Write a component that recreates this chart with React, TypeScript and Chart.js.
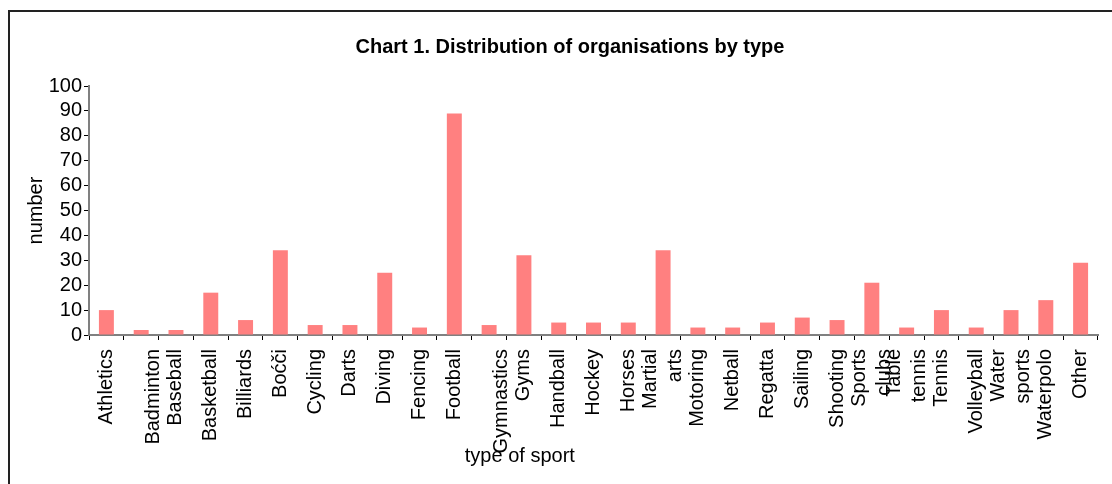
import React, { useEffect, useRef } from "react";
import { Chart, registerables } from "chart.js";

Chart.register(...registerables);

// ---- data ----
const categories: (string | string[])[] = [
  "Athletics", ["", "Badminton"], "Baseball", "Basketball", "Billiards", "Boćči",
  "Cycling", "Darts", "Diving", "Fencing", "Football", ["", "Gymnastics"], "Gyms",
  "Handball", "Hockey", "Horses", ["Martial", "arts"], "Motoring", "Netball",
  "Regatta", "Sailing", "Shooting", ["Sports", "clubs"], ["Table", "tennis"],
  "Tennis", "Volleyball", ["Water", "sports"], "Waterpolo", "Other",
];
const counts: number[] = [
  10, 2, 2, 17, 6, 34, 4, 4, 25, 3, 89, 4, 32, 5, 5, 5, 34, 3, 3, 5, 7, 6, 21,
  3, 10, 3, 10, 14, 29,
];
const yMin = 0;
const yMax = 100;
const yStep = 10;
const chartTitle = "Chart 1. Distribution of organisations by type";
const yTitle = "number";
const xTitle = "type of sport";

const FONT = '"Liberation Sans", Arial, sans-serif';
const TICK_LINE = 25;

const xTitlePlugin = {
  id: "xTitleCustom",
  afterDraw(chart: any) {
    const { ctx, chartArea } = chart;
    ctx.save();
    ctx.font = `20px ${FONT}`;
    ctx.fillStyle = "#000";
    ctx.textAlign = "center";
    ctx.textBaseline = "middle";
    const x = chartArea.left + (chartArea.right - chartArea.left) * 0.427;
    ctx.fillText(xTitle, x, chartArea.bottom + 121);
    ctx.restore();
  },
};

export default function App() {
  const canvasRef = useRef<HTMLCanvasElement | null>(null);

  useEffect(() => {
    const canvas = canvasRef.current;
    if (!canvas) return;
    const chart = new Chart(canvas, {
      type: "bar",
      data: {
        labels: categories,
        datasets: [
          {
            data: counts,
            backgroundColor: "#FF8080",
            borderWidth: 0,
            barPercentage: 0.43,
            categoryPercentage: 1,
          },
        ],
      },
      plugins: [xTitlePlugin],
      options: {
        animation: false,
        responsive: false,
        devicePixelRatio: 1,
        layout: { padding: { left: 24, right: 0, top: 12, bottom: 30 } },
        plugins: {
          legend: { display: false },
          tooltip: { enabled: false },
          title: {
            display: true,
            text: chartTitle,
            color: "#000",
            font: { family: FONT, size: 20, weight: "bold", lineHeight: 1.2 },
            padding: { top: 23, bottom: 27 },
          },
        },
        scales: {
          x: {
            type: "category",
            offset: true,
            grid: {
              display: true,
              drawOnChartArea: false,
              drawTicks: true,
              tickLength: 5,
              tickColor: "#000",
              tickWidth: 1,
              offset: true,
            },
            border: { display: true, color: "#808080", width: 2 },
            ticks: {
              autoSkip: false,
              minRotation: 90,
              maxRotation: 90,
              padding: 9,
              color: "#000",
              labelOffset: -TICK_LINE / 2,
              // single-line labels skip the half-line shift so they sit on the tick
              showLabelBackdrop: (ctx: any) => {
                const lbl = categories[ctx.index];
                return !Array.isArray(lbl);
              },
              backdropColor: "rgba(0,0,0,0)",
              backdropPadding: 0,
              font: { family: FONT, size: 20, lineHeight: TICK_LINE / 20 },
            },
            afterFit(scale: any) {
              scale.height = 119;
            },
          },
          y: {
            type: "linear",
            position: "left",
            min: yMin,
            max: yMax,
            grid: {
              display: true,
              drawOnChartArea: false,
              drawTicks: true,
              tickLength: 5,
              tickColor: "#000",
              tickWidth: 1,
            },
            border: { display: true, color: "#808080", width: 2 },
            ticks: {
              stepSize: yStep,
              autoSkip: false,
              maxTicksLimit: 20,
              padding: 2,
              color: "#000",
              font: { family: FONT, size: 20, lineHeight: 1 },
            },
            title: {
              display: true,
              text: yTitle,
              color: "#000",
              font: { family: FONT, size: 20, lineHeight: 1.2 },
              padding: { top: 0, bottom: 0 },
            },
            afterFit(scale: any) {
              scale.width = 65;
            },
          },
          yRightSpacer: {
            type: "linear",
            position: "right",
            display: true,
            grid: { display: false, drawTicks: false },
            border: { display: false },
            ticks: { display: false },
            afterFit(scale: any) {
              scale.width = 18;
            },
          },
        },
      },
    } as any);
    return () => chart.destroy();
  }, []);

  return (
    <div
      style={{
        position: "absolute",
        left: 0,
        top: 0,
        width: 1112,
        height: 484,
        overflow: "hidden",
        background: "#fff",
      }}
    >
      <div
        style={{
          position: "absolute",
          left: 8,
          top: 10,
          width: 1200,
          height: 600,
          borderLeft: "2px solid #222",
          borderTop: "2px solid #222",
        }}
      />
      <canvas
        ref={canvasRef}
        width={1116}
        height={484}
        style={{ position: "absolute", left: 0, top: 0, width: 1116, height: 484, display: "block" }}
      />
    </div>
  );
}
